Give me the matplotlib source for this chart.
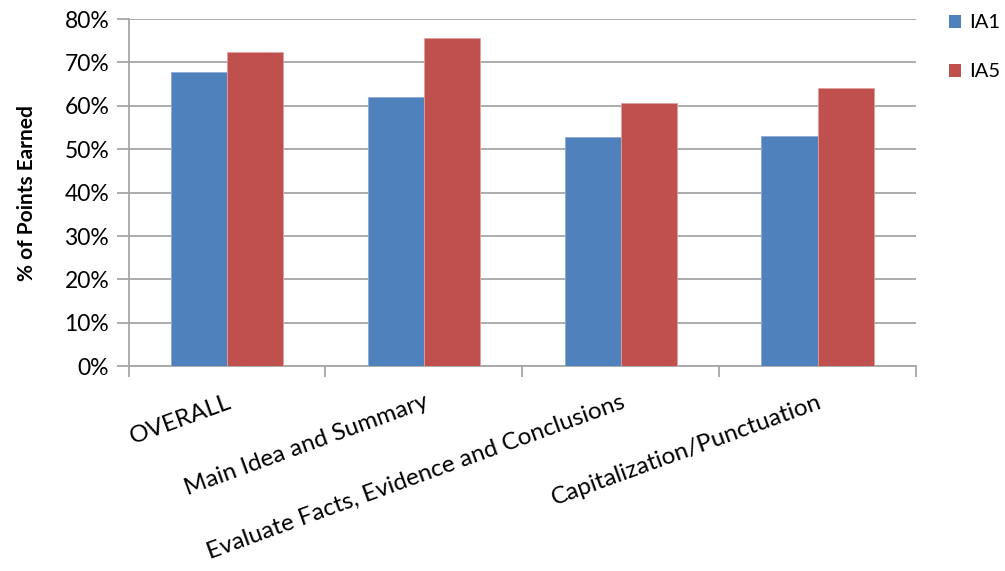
import matplotlib.pyplot as plt
import numpy as np
from matplotlib.patches import Patch
from matplotlib.ticker import PercentFormatter

plt.rcParams['font.family'] = ['Lato', 'DejaVu Sans']

categories = ['OVERALL', 'Main Idea and Summary',
              'Evaluate Facts, Evidence and Conclusions',
              'Capitalization/Punctuation']
series_names = ['IA1', 'IA5']
ia1 = [67.8, 62.1, 52.8, 53.1]
ia5 = [72.5, 75.7, 60.6, 64.2]
colors = ['#4F81BD', '#C0504D']

fig = plt.figure(figsize=(10.05, 5.71), dpi=100)
ax = fig.add_axes([0.128, 0.3585, 0.7835, 0.6082])

x = np.arange(len(categories))
w = 1 / 3.5
ax.bar(x - w / 2, ia1, w, color=colors[0], edgecolor='#8EAAD6', linewidth=0.6, zorder=3)
ax.bar(x + w / 2, ia5, w, color=colors[1], edgecolor='#E0A09E', linewidth=0.6, zorder=3)

ax.set_xlim(-0.5, len(categories) - 0.5)
ax.set_ylim(0, 80)
ax.set_yticks(np.arange(0, 81, 10))
ax.yaxis.set_major_formatter(PercentFormatter(decimals=0))
ax.grid(axis='y', color='#A6A6A6', linewidth=1.3, zorder=0)

# category boundary ticks on the x axis, labels at the centres
ax.set_xticks(np.arange(-0.5, len(categories)), minor=False)
ax.set_xticklabels([])
ax.set_xticks(x, minor=True)
ax.set_xticklabels(categories, minor=True, rotation=20, ha='right',
                   rotation_mode='anchor', fontsize=17.5)
ax.tick_params(axis='x', which='minor', length=0, pad=18)
ax.tick_params(axis='x', which='major', length=8, width=1.3, color='#A6A6A6')
ax.tick_params(axis='y', length=9, width=1.3, color='#A6A6A6', labelsize=16.5, pad=5)

for s in ['top', 'right']:
    ax.spines[s].set_visible(False)
for s in ['left', 'bottom']:
    ax.spines[s].set_color('#A6A6A6')
    ax.spines[s].set_linewidth(1.3)

ax.set_ylabel('% of Points Earned', fontsize=15, fontweight='bold', labelpad=20)

handles = [Patch(facecolor=c, label=n) for c, n in zip(colors, series_names)]
fig.legend(handles=handles, loc='upper left', bbox_to_anchor=(0.944, 0.975),
           frameon=False, fontsize=14.5, handlelength=0.6, handleheight=0.6,
           handletextpad=0.4, labelspacing=1.6, borderaxespad=0, borderpad=0)

fig.savefig('out.png', dpi=100)
